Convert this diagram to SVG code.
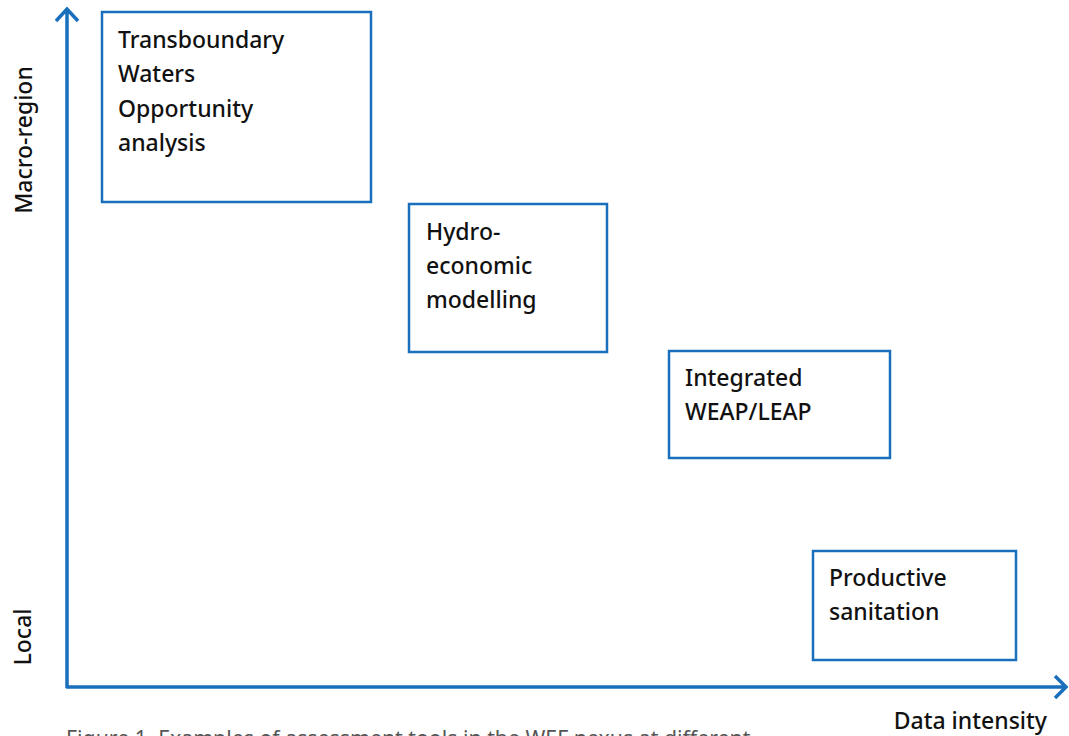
<svg xmlns="http://www.w3.org/2000/svg" width="1069" height="736" viewBox="0 0 1069 736">
<style>
.box{fill:#fff;stroke:#1a6fbd;stroke-width:2.5}
.axis{fill:none;stroke:#1a6fbd;stroke-width:3.5}
.t{font-family:"Noto Sans","Open Sans",sans-serif;font-size:23px;font-weight:500;fill:#111}
.cap{font-family:"Noto Sans","Open Sans",sans-serif;font-size:21.3px;fill:#555}
</style>
<rect width="1069" height="736" fill="#fff"/>
<g id="connectors">
<path class="axis" d="M67,688 V10 M56,21 L67,9 L78,21"/>
<path class="axis" d="M66,687 H1064 M1055,676 L1066,687 L1055,698"/>
</g>
<g id="n1"><rect class="box" x="102" y="12" width="269" height="190"/>
<text class="t" x="118" y="48">Transboundary</text><text class="t" x="118" y="82">Waters</text><text class="t" x="118" y="117">Opportunity</text><text class="t" x="118" y="151">analysis</text></g>
<g id="n2"><rect class="box" x="409" y="204" width="198" height="148"/>
<text class="t" x="426" y="240">Hydro-</text><text class="t" x="426" y="274">economic</text><text class="t" x="426" y="308">modelling</text></g>
<g id="n3"><rect class="box" x="669" y="351" width="221" height="107"/>
<text class="t" x="685" y="386">Integrated</text><text class="t" x="685" y="420">WEAP/LEAP</text></g>
<g id="n4"><rect class="box" x="813" y="551" width="203" height="109"/>
<text class="t" x="829" y="586">Productive</text><text class="t" x="829" y="620">sanitation</text></g>
<g id="labels">
<text class="t" transform="translate(32,140) rotate(-90)" text-anchor="middle">Macro-region</text>
<text class="t" transform="translate(31,637) rotate(-90)" text-anchor="middle">Local</text>
<text class="t" x="1047" y="729" text-anchor="end">Data intensity</text>
<text class="cap" x="66" y="746">Figure 1. Examples of assessment tools in the WEF nexus at different</text>
</g>
</svg>
